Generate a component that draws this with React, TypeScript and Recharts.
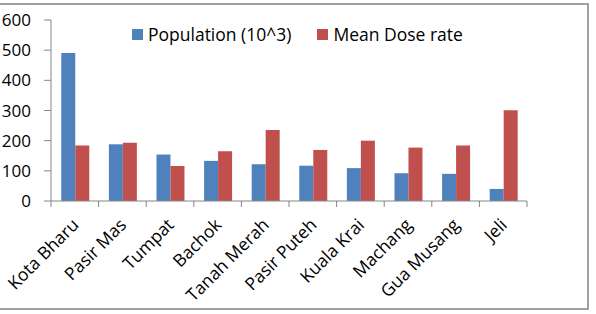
import { BarChart, Bar, XAxis, YAxis } from 'recharts';

const districts = [
  'Kota Bharu',
  'Pasir Mas',
  'Tumpat',
  'Bachok',
  'Tanah Merah',
  'Pasir Puteh',
  'Kuala Krai',
  'Machang',
  'Gua Musang',
  'Jeli',
];
const population = [491, 188, 154, 133, 122, 117, 109, 92, 90, 40];
const doseRate = [184, 193, 116, 165, 235, 169, 200, 177, 184, 301];
const yTicks = [0, 100, 200, 300, 400, 500, 600];
const seriesNames = ['Population (10^3)', 'Mean Dose rate'];

const BLUE = '#4F81BD';
const RED = '#C0504D';
const FONT = '"Open Sans", sans-serif';

const data = districts.map((name, i) => ({
  name,
  population: population[i],
  dose: doseRate[i],
}));

const W = 596;
const H = 314;
const LEFT = 51;
const RIGHT = 69;
const BAND = (W - LEFT - RIGHT) / districts.length;

function XTick(props: any) {
  const { x, y, payload, index } = props;
  const half = BAND / 2;
  const ax = x + 5;
  const ay = y + 17;
  return (
    <g>
      <line x1={x - half} y1={y - 8} x2={x - half} y2={y - 2} stroke="#868686" />
      {index === districts.length - 1 && (
        <line x1={x + half} y1={y - 8} x2={x + half} y2={y - 2} stroke="#868686" />
      )}
      <text
        x={ax}
        y={ay}
        textAnchor="end"
        transform={`rotate(-45, ${ax}, ${ay})`}
        fontSize={17.5}
        fontFamily={FONT}
        fill="#000"
      >
        {payload.value}
      </text>
    </g>
  );
}

function LegendBox() {
  const colors = [BLUE, RED];
  return (
    <div
      style={{
        position: 'absolute',
        left: 132,
        top: 22,
        display: 'flex',
        fontFamily: FONT,
        fontSize: 17.5,
        color: '#000',
        whiteSpace: 'nowrap',
      }}
    >
      {seriesNames.map((label, i) => (
        <div key={label} style={{ display: 'flex', alignItems: 'center', marginRight: 26 }}>
          <span style={{ width: 11, height: 11, background: colors[i], marginRight: 5 }} />
          <span>{label}</span>
        </div>
      ))}
    </div>
  );
}

export default function App() {
  return (
    <div style={{ position: 'absolute', left: 0, top: 0, width: W, height: H, background: '#fff' }}>
      <BarChart
        width={W}
        height={H}
        data={data}
        margin={{ top: 20, right: RIGHT, left: 0, bottom: 0 }}
        barCategoryGap="21.6%"
        barGap={0}
      >
        <XAxis
          dataKey="name"
          height={113}
          interval={0}
          tickLine={false}
          axisLine={{ stroke: '#868686' }}
          tick={<XTick />}
        />
        <YAxis
          width={LEFT}
          domain={[0, 600]}
          ticks={yTicks}
          interval={0}
          axisLine={{ stroke: '#868686' }}
          tickLine={{ stroke: '#868686' }}
          tickSize={7}
          tickMargin={13}
          tick={{ fontSize: 17, fontFamily: FONT, fill: '#000' }}
        />
        <Bar dataKey="population" name={seriesNames[0]} fill={BLUE} isAnimationActive={false} />
        <Bar dataKey="dose" name={seriesNames[1]} fill={RED} isAnimationActive={false} />
      </BarChart>
      <LegendBox />
      <div
        style={{
          position: 'absolute',
          left: -4,
          top: 3,
          width: 593,
          height: 307,
          border: '2px solid #a0a0a0',
          boxSizing: 'border-box',
          pointerEvents: 'none',
        }}
      />
    </div>
  );
}
